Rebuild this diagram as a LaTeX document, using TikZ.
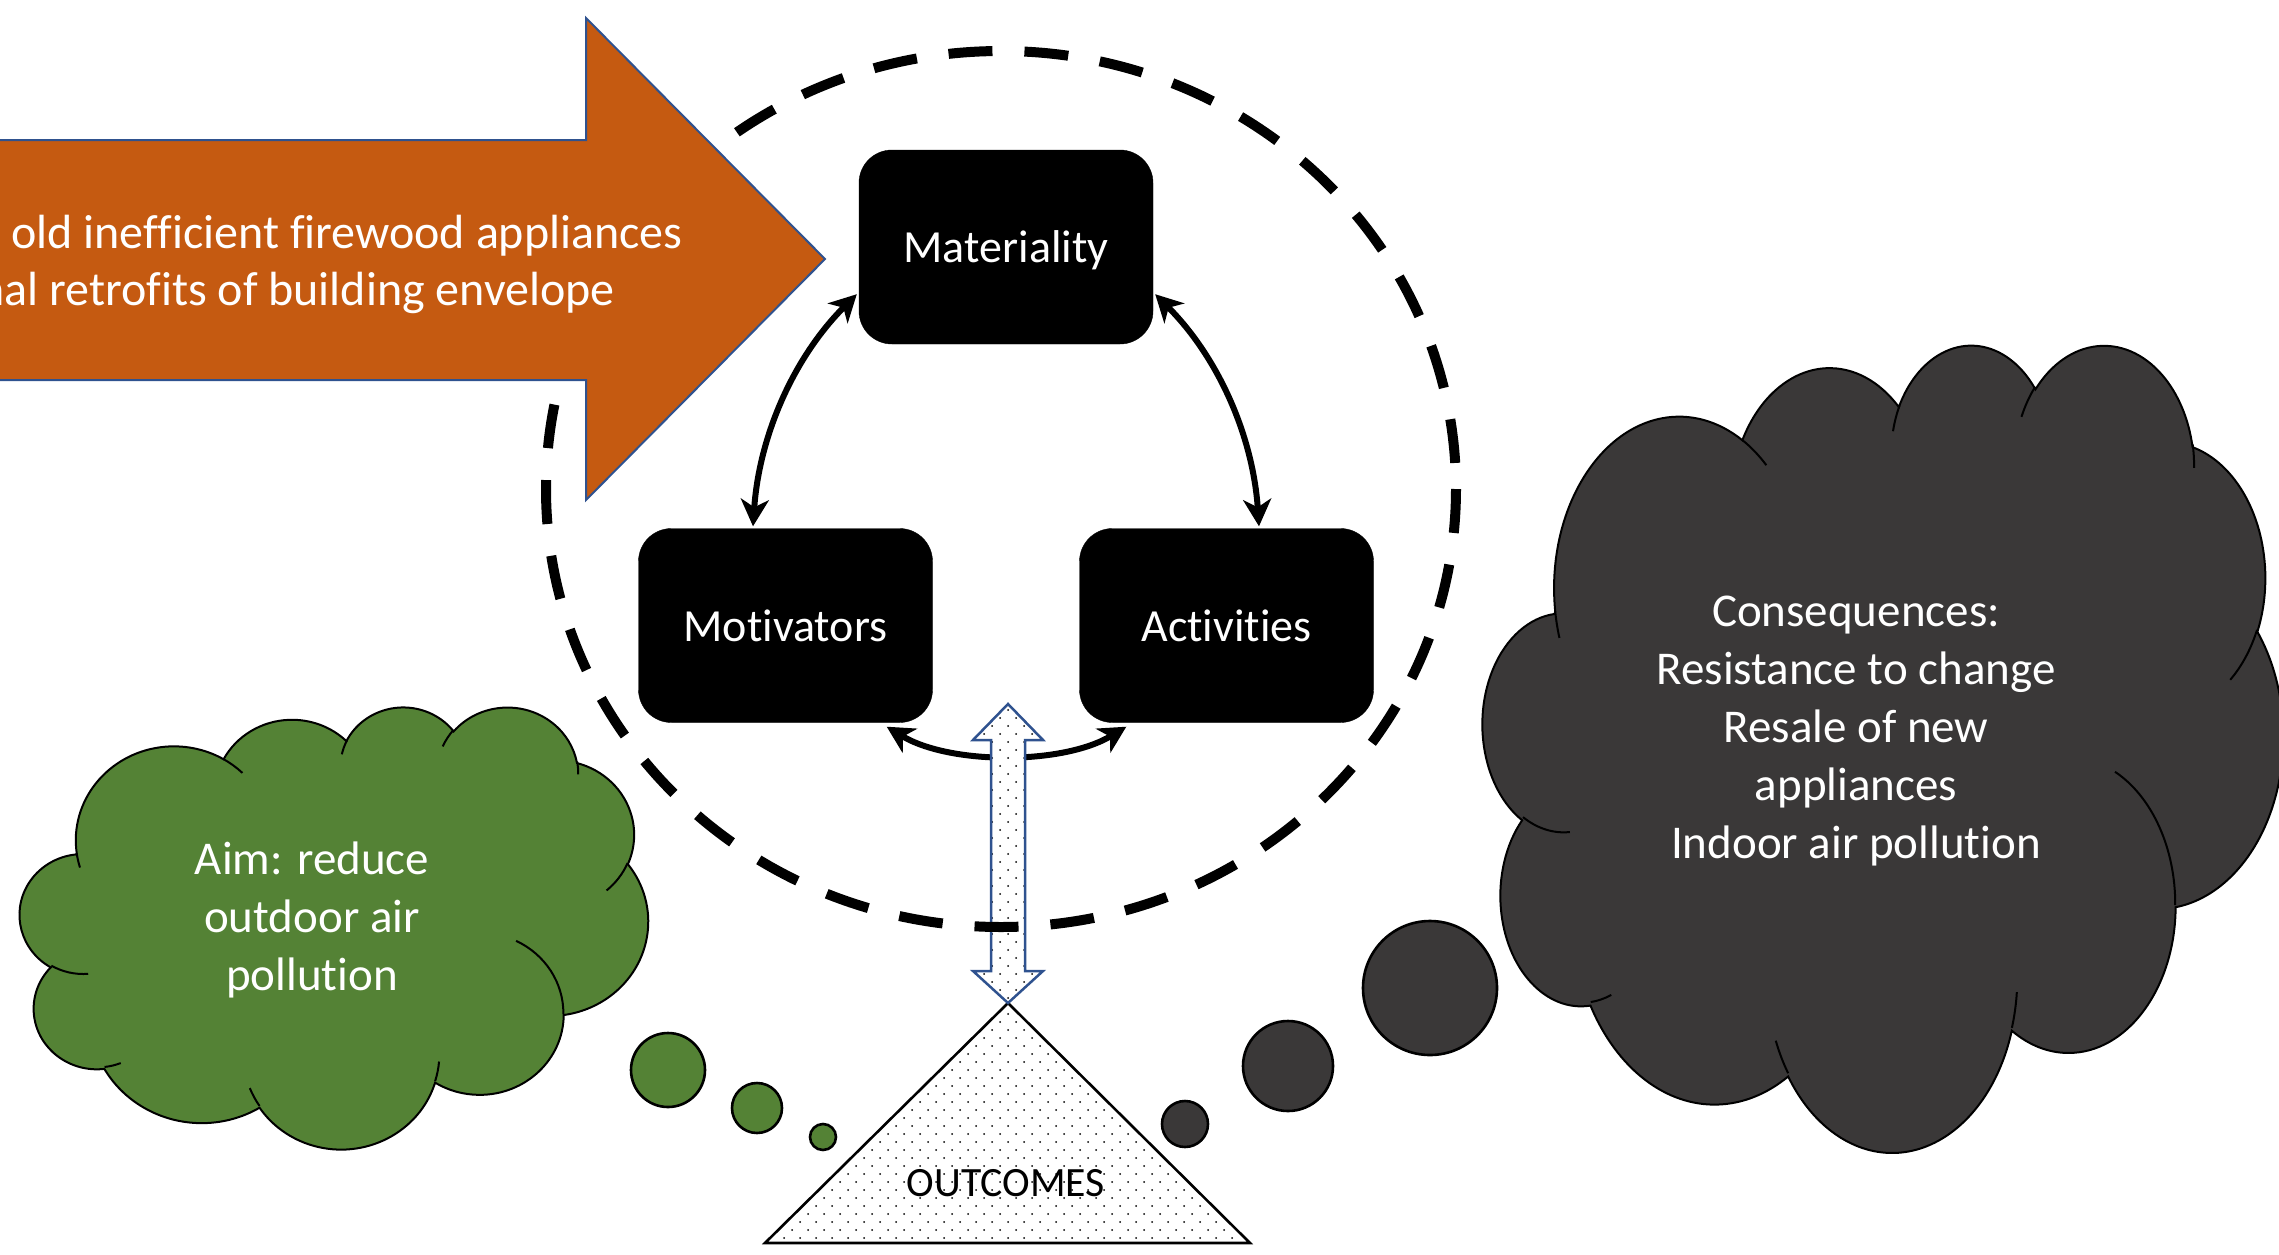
\documentclass[tikz,border=0pt]{standalone}
\usepackage{fontspec}
\setmainfont{Carlito}[Ligatures={NoCommon,NoRare,NoDiscretionary}]
\usetikzlibrary{arrows.meta,patterns}
\definecolor{orangeA}{HTML}{C55A11}
\definecolor{blueline}{HTML}{2F528F}
\definecolor{greenC}{HTML}{548235}
\definecolor{darkC}{HTML}{3A3838}

\pgfdeclarepatternformonly{refdots}{\pgfqpoint{-2pt}{-2pt}}{\pgfqpoint{14pt}{14pt}}{\pgfqpoint{16pt}{16pt}}{%
  \pgfpathcircle{\pgfqpoint{0pt}{0pt}}{1pt}%
  \pgfpathcircle{\pgfqpoint{8pt}{8pt}}{1pt}%
  \pgfusepath{fill}}

\makeatletter
\pgfmathdeclarefunction{cpa}{3}{%
  \begingroup
  \pgfmathparse{atan2((#2)*sin(#1),(#3)*cos(#1))}%
  \edef\cpa@a{\pgfmathresult}%
  \pgfmathparse{\cpa@a-(#1)}%
  \edef\cpa@d{\pgfmathresult}%
  \pgfmathparse{(#1)+\cpa@d-360*round(\cpa@d/360)}%
  \pgfmath@smuggleone\pgfmathresult
  \endgroup}
\makeatother

\newcommand\cldarc[4]{arc[start angle={cpa(#3,#1,#2)},end angle={cpa(#3+#4,#1,#2)},x radius=#1,y radius=#2]}

\newcommand\refcloud[5]{%
 \begin{scope}[shift={(#1,#2)},xscale=#3/1000,yscale=#4/1000]
  \draw[cloudedge,fill=#5] (90.278,332.639)
   \cldarc{156.319}{212.731}{-190.4875}{123.7805}
   \cldarc{123.449}{168.218}{-144.1024}{89.9452}
   \cldarc{101.042}{137.616}{-145.8079}{99.7230}
   \cldarc{112.431}{152.662}{-130.9861}{117.2417}
   \cldarc{123.449}{168.356}{-78.7089}{109.0269}
   \cldarc{156.829}{213.426}{-46.2673}{130.2690}
   \cldarc{133.912}{182.106}{0.6250}{114.0333}
   \cldarc{156.296}{213.310}{22.4516}{115.1726}
   \cldarc{178.704}{244.051}{66.2426}{75.7110}
   \cldarc{100.926}{136.991}{-274.9421}{146.7356}
   \cldarc{100.579}{137.616}{-246.8285}{152.5189}
   -- cycle;
  \draw[cloudedge]
   (108.634,605.949) \cldarc{100.579}{137.616}{86.7420}{26.4295}
   (160.370,807.847) \cldarc{100.926}{136.991}{73.6105}{11.4475}
   (381.435,904.861) \cldarc{156.296}{213.310}{137.6242}{14.0811}
   (667.292,804.421) \cldarc{156.296}{213.310}{6.4533}{15.9984}
   (790.023,531.343) \cldarc{133.912}{182.106}{-70.2924}{70.9174}
   (967.546,355.417) \cldarc{123.449}{168.356}{30.3180}{27.7515}
   (887.130,125.602) \cldarc{112.431}{152.662}{-13.7443}{14.8589}
   (673.102,91.481) \cldarc{112.431}{152.662}{-149.1815}{18.1954}
   (512.523,109.259) \cldarc{101.042}{137.616}{-163.4943}{17.6864}
   (324.074,120.185) \cldarc{156.319}{212.731}{-66.7070}{12.3194}
   (95.532,365.486) \cldarc{156.319}{212.731}{157.6544}{11.8582};
 \end{scope}}

\tikzset{
  mainfont/.style={font=\fontsize{47}{58}\selectfont},
  box/.style={fill=black, draw=black, rounded corners=33pt, minimum width=294pt,
    minimum height=194pt, inner sep=0pt, text depth=0pt, text=white, font=\fontsize{46}{56}\selectfont},
  curv/.style={line width=6pt, {Stealth[length=27pt,width=28pt,inset=8pt]}-{Stealth[length=27pt,width=28pt,inset=8pt]}},
  cloudedge/.style={draw=black, line width=2pt},
  bubble/.style={draw=black, line width=2.6pt},
  cloudtext/.style={mainfont, text=white, align=center},
  arrowtext/.style={font=\fontsize{48}{58}\selectfont, text=white, anchor=base east, inner sep=0pt},
}

\begin{document}
\begin{tikzpicture}[x=1pt,y=-1pt]
\useasboundingbox (0,0) rectangle (2279,1254);
\clip (0,0) rectangle (2279,1254);

% boxes
\node[box] (mat) at (1006,247) {Materiality};
\node[box] (mot) at (785.5,625.5) {Motivators};
\node[box] (act) at (1226.5,625.5) {Activities};

% curved double arrows
\draw[curv] ([shift={(-2,-50)}]mat.south west) .. controls (793,358) and (759,437) .. ([shift={(-32.5,-2)}]mot.north);
\draw[curv] ([shift={(2,-50)}]mat.south east) .. controls (1219,358) and (1253,437) .. ([shift={(32.5,-2)}]act.north);
\draw[curv] ([shift={(-46,4)}]mot.south east) .. controls (950,765) and (1063,765) .. ([shift={(47,4)}]act.south west);

% outcomes triangle
\path[fill=white] (1008,1003) -- (1250,1243) -- (765,1243) -- cycle;
\path[pattern=refdots] (1008,1003) -- (1250,1243) -- (765,1243) -- cycle;
\draw[line width=2.6pt, line join=miter] (1008,1003) -- (1250,1243) -- (765,1243) -- cycle;
\node[font=\fontsize{41.7}{50}\selectfont, text=black] (outc) at (1006,1183) {OUTCOMES};

% vertical double block arrow
\path[fill=white] (1008,704) -- (1043,740) -- (1025,740) -- (1025,971) -- (1043,971) -- (1008,1003) -- (973,971) -- (991,971) -- (991,740) -- (973,740) -- cycle;
\path[pattern=refdots] (1008,704) -- (1043,740) -- (1025,740) -- (1025,971) -- (1043,971) -- (1008,1003) -- (973,971) -- (991,971) -- (991,740) -- (973,740) -- cycle;
\draw[blueline, line width=2.5pt] (1008,704) -- (1043,740) -- (1025,740) -- (1025,971) -- (1043,971) -- (1008,1003) -- (973,971) -- (991,971) -- (991,740) -- (973,740) -- cycle;

% dashed circle
\draw[line width=10pt, dash pattern=on 44pt off 32pt] (1001,489) ellipse[x radius=455, y radius=438];

% orange block arrow
\draw[fill=orangeA, draw=blueline, line width=2pt] (-20,140) -- (586,140) -- (586,18) -- (825,259) -- (586,500) -- (586,380) -- (-20,380) -- cycle;
\node[arrowtext] (ln1) at (683,248) {old inefficient firewood appliances};
\node[arrowtext] (ln2) at (615,305) {nal retrofits of building envelope};

% green cloud
\refcloud{20}{706}{628}{442}{greenC}
\node[cloudtext] (aim) at (312,920) {Aim: reduce\\outdoor air\\pollution};
\draw[bubble, fill=greenC] (668,1070) circle[radius=37];
\draw[bubble, fill=greenC] (757,1108) circle[radius=25];
\draw[bubble, fill=greenC] (823,1137) circle[radius=13];

% dark cloud
\refcloud{1483}{343}{800}{807}{darkC}
\node[cloudtext] (cons) at (1856,731) {Consequences:\\Resistance to change\\Resale of new\\appliances\\Indoor air pollution};
\draw[bubble, fill=darkC] (1185,1124) circle[radius=23];
\draw[bubble, fill=darkC] (1288,1066) circle[radius=45];
\draw[bubble, fill=darkC] (1430,988) circle[radius=67];
\end{tikzpicture}
\end{document}
